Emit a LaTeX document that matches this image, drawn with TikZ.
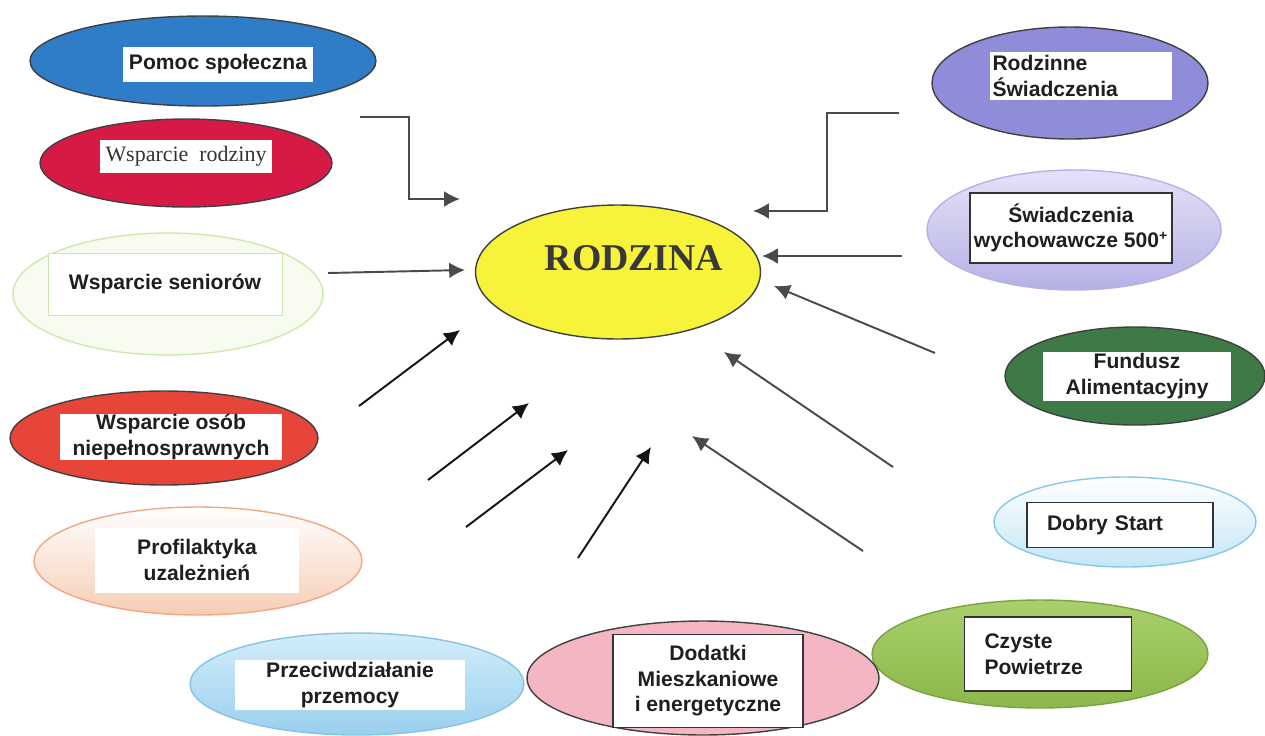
\documentclass[tikz,border=0pt]{standalone}
\usepackage{fontspec}
\setmainfont{Liberation Serif}
\setsansfont{Liberation Sans}
\usetikzlibrary{shapes.geometric,arrows.meta}

\definecolor{pomocblue}{HTML}{2F7DC6}
\definecolor{rodzinyred}{HTML}{D61A45}
\definecolor{osobred}{HTML}{E8453A}
\definecolor{dodatkipink}{HTML}{F4B6C2}
\definecolor{fundgreen}{HTML}{3D7A47}
\definecolor{rodzinnelav}{HTML}{8F8CD9}
\definecolor{rodzinayellow}{HTML}{F7F23A}
\definecolor{arrgray}{HTML}{4A4A4A}
\definecolor{wychtop}{HTML}{E4E2F7}
\definecolor{wychbot}{HTML}{B6B1E6}
\definecolor{przemoctop}{HTML}{D3EDFA}
\definecolor{przemocbot}{HTML}{9ACFEE}
\definecolor{przemocline}{HTML}{86C3E5}
\definecolor{czystetop}{HTML}{A9D06B}
\definecolor{czystebot}{HTML}{8CB74B}
\definecolor{czysteline}{HTML}{7AA343}
\definecolor{startbot}{HTML}{C4E6F7}
\definecolor{startline}{HTML}{86C8EA}
\definecolor{profilbot}{HTML}{F6CDB5}
\definecolor{profilline}{HTML}{F2A784}
\definecolor{seniorline}{HTML}{CFE8AE}
\definecolor{seniorfill}{HTML}{F8FCF0}

\tikzset{
  blob/.style={ellipse,draw=black!75,line width=0.8pt,inner sep=0pt},
  lbl/.style={rectangle,fill=white,inner sep=0pt,align=center,text=black!88,
    font=\sffamily\bfseries\fontsize{12}{14.5}\selectfont},
  arr/.style={-{Latex[length=9pt,width=9pt]},line width=1.1pt,draw=arrgray},
}

\begin{document}
\begin{tikzpicture}[x=0.02cm,y=-0.02cm]
  \useasboundingbox (0,0) rectangle (1265,735);

  % ellipses, left side
  \node[blob,fill=pomocblue,minimum width=6.92cm,minimum height=1.8cm] (pomoc) at (203,61) {};
  \node[blob,fill=rodzinyred,minimum width=5.84cm,minimum height=1.76cm] (rodziny) at (186,163) {};
  \node[blob,draw=seniorline,fill=seniorfill,minimum width=6.2cm,minimum height=2.44cm] (seniorzy) at (168,294) {};
  \node[blob,fill=osobred,minimum width=6.16cm,minimum height=1.88cm] (osoby) at (164,438) {};
  \node[blob,draw=profilline,top color=white,bottom color=profilbot,minimum width=6.56cm,minimum height=2.16cm] (profil) at (198,561) {};
  \node[blob,draw=przemocline,top color=przemoctop,bottom color=przemocbot,minimum width=6.68cm,minimum height=2.04cm] (przemoc) at (357,684) {};

  % ellipses, right side
  \node[blob,draw=czysteline,top color=czystetop,bottom color=czystebot,minimum width=6.72cm,minimum height=2.16cm] (czyste) at (1040,654) {};
  \node[blob,fill=dodatkipink,minimum width=7.04cm,minimum height=2.28cm] (dodatki) at (703,678) {};
  \node[blob,draw=startline,top color=white,bottom color=startbot,minimum width=5.24cm,minimum height=1.8cm] (start) at (1125,522) {};
  \node[blob,fill=fundgreen,minimum width=5.2cm,minimum height=1.96cm] (fundusz) at (1135,376) {};
  \node[blob,draw=wychbot,top color=wychtop,bottom color=wychbot,minimum width=5.88cm,minimum height=2.4cm] (wych) at (1074,230) {};
  \node[blob,fill=rodzinnelav,minimum width=5.52cm,minimum height=2.24cm] (rodzinne) at (1070,83) {};

  \node[blob,fill=rodzinayellow,minimum width=5.7cm,minimum height=2.68cm] (rodzina) at (618,272) {};
  \node[font=\bfseries\fontsize{21.5}{24}\selectfont,text=black!78] (rodzinatxt) at (634,258) {RODZINA};

  % text boxes
  \node[lbl,minimum width=3.8cm,minimum height=0.7cm] (pomocbox) at (218,64) {Pomoc społeczna};
  \node[lbl,minimum width=3.44cm,minimum height=0.66cm,font=\fontsize{12.5}{14}\selectfont,text=black!80] (rodzinybox) at (186,156) {Wsparcie\ \ rodziny};
  \node[lbl,draw=seniorline,minimum width=4.68cm,minimum height=1.24cm] (seniorbox) at (165,284) {Wsparcie seniorów};
  \node[lbl,minimum width=4.44cm,minimum height=0.92cm] (osobbox) at (171,437) {Wsparcie osób\\niepełnosprawnych};
  \node[lbl,minimum width=4.1cm,minimum height=1.3cm] (profilbox) at (197,560) {Profilaktyka\\uzależnień};
  \node[lbl,minimum width=4.6cm,minimum height=1.0cm] (przemocbox) at (350,685) {Przeciwdziałanie\\przemocy};
  \node[lbl,draw=black!80,line width=0.9pt,minimum width=3.8cm,minimum height=1.86cm] (dodatkibox) at (708,681) {Dodatki\\Mieszkaniowe\\i energetyczne};
  \node[lbl,draw=black!80,line width=0.9pt,align=left,inner xsep=0.4cm,text width=2.54cm,minimum height=1.48cm] (czystebox) at (1048,654) {Czyste\\Powietrze};
  \node[lbl,draw=black!80,line width=0.9pt,align=left,inner xsep=0.4cm,text width=2.92cm,minimum height=0.9cm] (startbox) at (1120,525) {Dobry Start};
  \node[lbl,minimum width=3.76cm,minimum height=0.98cm] (fundbox) at (1137,376) {Fundusz\\Alimentacyjny};
  \node[lbl,draw=black!80,line width=0.9pt,minimum width=4.04cm,minimum height=1.4cm] (wychbox) at (1071,228) {Świadczenia\\wychowawcze 500\textsuperscript{+}};
  \node[lbl,align=left,inner xsep=0.06cm,text width=3.54cm,minimum height=0.96cm] (rodzinnebox) at (1081,76) {Rodzinne\\Świadczenia};

  % arrow ends
  \coordinate (s1) at (360,117); \coordinate (k1) at (409,199); \coordinate (t1) at (460,199);
  \coordinate (s2) at (328,273); \coordinate (t2) at (465,270);
  \coordinate (s3) at (359,406); \coordinate (t3) at (460,330);
  \coordinate (s4) at (428,480); \coordinate (t4) at (529,403);
  \coordinate (s5) at (466,527); \coordinate (t5) at (568,450);
  \coordinate (s6) at (578,558); \coordinate (t6) at (651,447);
  \coordinate (s7) at (863,551); \coordinate (t7) at (692,436);
  \coordinate (s8) at (893,467); \coordinate (t8) at (724,352);
  \coordinate (s9) at (935,353); \coordinate (t9) at (774,286);
  \coordinate (s10) at (902,256); \coordinate (t10) at (762,256);
  \coordinate (s11) at (899,113); \coordinate (k11) at (827,211); \coordinate (t11) at (753,211);

  \draw[arr] (s1) -| (k1) -- (t1);
  \draw[arr] (s11) -| (k11) -- (t11);
  \foreach \i in {2,7,8,9,10} {
    \draw[arr] (s\i) -- (t\i);
  }
  \foreach \i in {3,...,6} {
    \draw[arr,draw=black!92] (s\i) -- (t\i);
  }
\end{tikzpicture}
\end{document}
